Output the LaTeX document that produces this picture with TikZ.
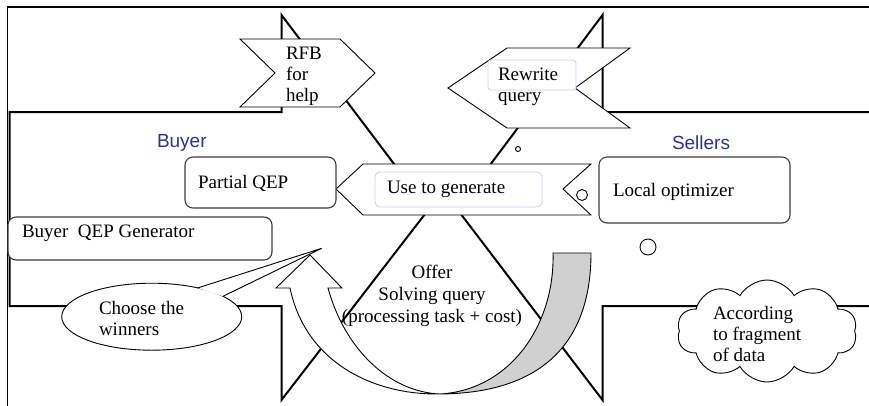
\documentclass[tikz,border=0pt]{standalone}
\usepackage{fontspec}
\setmainfont{Liberation Serif}
\newfontfamily\arialf{Liberation Sans}
\usetikzlibrary{shapes.geometric,shapes.symbols}
\definecolor{navy}{RGB}{46,49,146}
\definecolor{lav}{RGB}{205,205,240}
\definecolor{band}{RGB}{208,208,208}
\definecolor{edge}{RGB}{60,60,60}
\begin{document}
\begin{tikzpicture}[x=1pt,y=-1pt,
  every node/.style={inner sep=0pt, outer sep=0pt},
  txt/.style={font=\fontsize{19}{21}\selectfont, align=left, anchor=west},
  heavy/.style={line width=2pt, line join=miter},
  thinline/.style={line width=0.9pt, draw=black},
  chev/.style={thinline, fill=white},
  rbox/.style={draw=edge, fill=white, rounded corners=8pt, line width=1.1pt},
  inbox/.style={draw=lav, fill=white, line width=0.9pt},
  lbl/.style={font=\arialf\fontsize{19}{21}\selectfont, text=navy, anchor=west}]
\useasboundingbox (0,0) rectangle (869,405);
\clip (0,0) rectangle (869,405);
% frame
\draw[line width=1.4pt] (7.5,420) -- (7.5,7) -- (880,7);
% buyer and seller arrows
\draw[heavy] (9.5,112) -- (281.5,112) -- (281.5,15) -- (428.5,209.5) -- (281.5,400) -- (281.5,306) -- (9.5,306) -- cycle;
\draw[heavy] (880,112) -- (602.5,112) -- (602.5,15) -- (457,209) -- (602.5,400) -- (602.5,306) -- (880,306);
% chevrons
\draw[chev] (240,39) -- (340,39) -- (375,73) -- (340,107) -- (240,107) -- (275,73) -- cycle;
\draw[chev] (507,48) -- (630,48) -- (575,88) -- (630,128) -- (507,128) -- (448,88) -- cycle;
\draw[chev] (363,164) -- (591,164) -- (563,189) -- (591,215) -- (363,215) -- (336,189) -- cycle;
\draw[inbox, rounded corners=3pt] (488,60) rectangle (576,90);
\draw[inbox, rounded corners=5pt] (375,172) rectangle (542,207);
% rounded boxes
\node[rbox, minimum width=151pt, minimum height=51pt] (pqbox) at (260.5,182.5) {};
\node[rbox, minimum width=264pt, minimum height=43pt] (bqbox) at (140,238.5) {};
\node[rbox, minimum width=191pt, minimum height=66pt] (lobox) at (694.5,190) {};
% callout
\node[ellipse, thinline, fill=white, minimum width=180pt, minimum height=67pt] (ell) at (151.7,316.7) {};
\coordinate (ctip) at (321.7,248.3);
\fill[white] (ell.32) -- (ctip) -- (ell.16) -- cycle;
\draw[thinline] (ell.32) -- (ctip) -- (ell.16);
% curved arrow
\draw[thinline, fill=band] (440,394) .. controls (510,390) and (555,325) .. (553,253) -- (591,253) .. controls (591,340) and (545,393) .. (440,394) -- cycle;
\draw[thinline, fill=white] (310,255) -- (342,288) -- (328,288) .. controls (345,350) and (390,392) .. (440,394) .. controls (370,395) and (305,360) .. (290,288) -- (276,288) -- cycle;
% cloud
\node[cloud, thinline, fill=white, cloud puffs=10, cloud puff arc=120, aspect=1.75, minimum width=180pt, minimum height=102pt] (cloud) at (767,331) {};
% circles
\draw[thinline, fill=white] (518,149) circle[radius=2.5pt];
\draw[thinline, fill=white] (582,195) circle[radius=5.5pt];
\draw[thinline, fill=white] (648,247) circle[radius=8pt];
% texts
\node[txt] (rfb) at (286,76) {RFB\\for\\help};
\node[txt] (rw) at (498,86.5) {Rewrite\\query};
\node[txt] (use) at (387,189) {Use to generate};
\node[txt] (pq) at (198,183) {Partial QEP};
\node[txt] (bq) at (22,233) {Buyer\ \ QEP Generator};
\node[txt] (lo) at (613,192) {Local optimizer};
\node[txt] (ch) at (99,318) {Choose the\\winners};
\node[txt] (cl) at (713,334) {According\\to fragment\\of data};
\node[font=\fontsize{19}{22}\selectfont, align=center] (offer) at (432,295.5) {Offer\\Solving query\\(processing task + cost)};
\node[lbl] (buyer) at (157,143) {Buyer};
\node[lbl] (sellers) at (672,143) {Sellers};
\end{tikzpicture}
\end{document}
